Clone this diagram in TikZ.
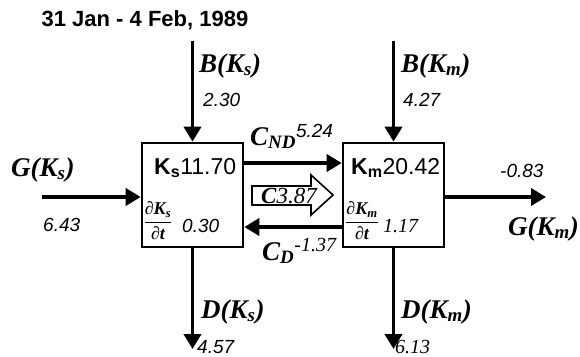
\documentclass[tikz,border=0pt]{standalone}
\usepackage{fontspec}
\usepackage{amsmath}
\setmainfont{Liberation Serif}
\setsansfont{Liberation Sans}
\usetikzlibrary{arrows.meta}
\newcommand{\lblf}{\fontsize{27}{27}\selectfont\rmfamily\bfseries\itshape}
\newcommand{\numsf}{\fontsize{19}{19}\selectfont\sffamily\mdseries\itshape}
\newcommand{\numrm}{\fontsize{20}{20}\selectfont\rmfamily\mdseries\itshape}
\newcommand{\fracf}{\fontsize{18}{18}\selectfont\rmfamily\bfseries\itshape}
\begin{document}
\begin{tikzpicture}[x=1pt,y=-1pt,
  flow/.style={line width=3.8pt,-{Triangle[length=15pt,width=17pt]}},
  box/.style={draw,line width=2.6pt,minimum width=101pt,minimum height=104pt,inner sep=0pt},
  lbl/.style={inner sep=0pt,anchor=base west,font=\lblf},
  nsf/.style={inner sep=0pt,anchor=base west,font=\numsf},
  nrm/.style={inner sep=0pt,anchor=base west,font=\numrm},
  inbox/.style={inner sep=0pt,anchor=base west,font=\fontsize{23}{23}\selectfont\sffamily},
  frc/.style={inner sep=0pt,font=\fracf}]
\path[fill=white,use as bounding box] (0,0) rectangle (580,356);

% title
\node[inner sep=0pt,font=\fontsize{22}{22}\selectfont\sffamily\bfseries] (title) at (145,20) {31 Jan - 4 Feb, 1989};

% boxes
\node[box] (ks) at (192.5,195) {};
\node[box] (km) at (393.5,195) {};

% box contents
\node[inbox] (ksn) at (154,174) {\textbf{K\textsubscript{s}}11.70};
\node[inbox] (kmn) at (351,174) {\textbf{K\textsubscript{m}}20.42};
\node[frc] (ksd) at (158,221) {$\genfrac{}{}{1.3pt}{0}{\text{∂K\textsubscript{s}}}{\text{∂t}}$};
\node[frc] (kmd) at (362,221) {$\genfrac{}{}{1.3pt}{0}{\text{∂K\textsubscript{m}}}{\text{∂t}}$};
\node[nsf] (vksd) at (182,232) {0.30};
\node[nrm] (vkmd) at (383,232) {1.17};

% coordinates for free ends
\coordinate (bks) at (192.5,41);
\coordinate (bkm) at (393.5,41);
\coordinate (gks) at (42,197);
\coordinate (gkm) at (546,197);
\coordinate (dks) at (192.5,349);
\coordinate (dkm) at (393.5,349);

% flows
\draw[flow] (bks) -- (ks.north);
\draw[flow] (bkm) -- (km.north);
\draw[flow] (gks) -- (gks -| ks.west);
\draw[flow] (gkm -| km.east) -- (gkm);
\draw[flow] (ks.south) -- (dks);
\draw[flow] (km.south) -- (dkm);
\draw[flow] ([yshift=32pt]ks.east) -- ([yshift=32pt]km.west);
\draw[flow] ([yshift=-32pt]km.west) -- ([yshift=-32pt]ks.east);

% hollow arrow
\draw[line width=1.6pt,line join=miter] (252,186) -- (311,186) -- (311,175) -- (333,195) -- (311,215) -- (311,205) -- (252,205) -- cycle;
\node[inner sep=0pt,anchor=base west,font=\fontsize{23}{23}\selectfont\rmfamily\itshape] (c) at (261,203) {\textbf{C}3.87};

% labels
\node[lbl] (lbks) at (199,72) {B(K\textsubscript{s})};
\node[nsf] (vbks) at (203,106) {2.30};
\node[lbl] (lbkm) at (401,72) {B(K\textsubscript{m})};
\node[nsf] (vbkm) at (403,106) {4.27};
\node[lbl] (lgks) at (11,176) {G(K\textsubscript{s})};
\node[nsf] (vgks) at (43,231) {6.43};
\node[lbl] (lcnd) at (250,145) {C\textsubscript{ND}\raisebox{8pt}{\numsf 5.24}};
\node[lbl] (lcd) at (262,260) {C\textsubscript{D}\raisebox{9pt}{\numrm -1.37}};
\node[nsf] (vgkm) at (500,177) {-0.83};
\node[lbl] (lgkm) at (508,235) {G(K\textsubscript{m})};
\node[lbl] (ldks) at (201,318) {D(K\textsubscript{s})};
\node[nsf] (vdks) at (197,353) {4.57};
\node[lbl] (ldkm) at (401,318) {D(K\textsubscript{m})};
\node[nrm] (vdkm) at (395,353) {6.13};
\end{tikzpicture}
\end{document}
